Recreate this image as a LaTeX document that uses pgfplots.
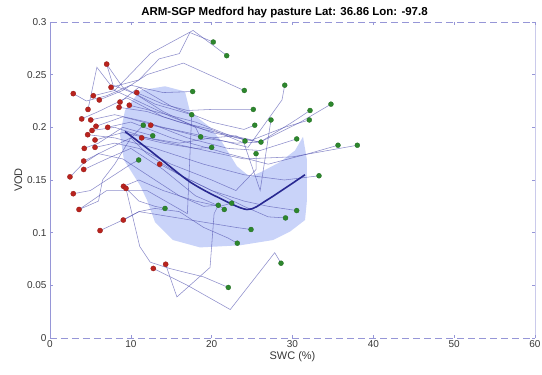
\documentclass[border=0pt]{standalone}
\usepackage{pgfplots}
\pgfplotsset{compat=1.18}
\usepackage{fontspec}
\setmainfont{Liberation Sans}
\definecolor{trk}{RGB}{80,80,175}
\definecolor{shadec}{RGB}{180,194,246}
\definecolor{meanc}{RGB}{40,40,145}
\definecolor{redm}{RGB}{185,35,30}
\definecolor{greenm}{RGB}{45,135,45}
\definecolor{axc}{RGB}{150,150,215}
\definecolor{tkc}{RGB}{55,55,55}
\tikzset{trkstyle/.style={draw=trk, line width=0.55pt, opacity=0.65}}
\begin{document}
\begin{tikzpicture}
\useasboundingbox (0,0) rectangle (542pt,375pt);
\begin{axis}[
  at={(50pt,37pt)}, anchor=south west,
  width=485pt, height=316pt, scale only axis,
  xmin=0, xmax=60, ymin=0, ymax=0.3,
  xtick={0,10,20,30,40,50,60},
  ytick={0,0.05,0.1,0.15,0.2,0.25,0.3},
  yticklabels={0,0.05,0.1,0.15,0.2,0.25,0.3},
  /pgf/number format/assume math mode=true,
  tick label style={font=\fontsize{10}{12}\selectfont, text=tkc},
  xticklabel style={yshift=1pt},
  tick align=inside, major tick length=3pt,
  tick style={axc, line width=0.4pt},
  axis line style={draw=none},
  xlabel={SWC (\%)}, ylabel={VOD},
  label style={font=\fontsize{11}{13}\selectfont, text=tkc},
  xlabel style={yshift=3pt},
  ylabel style={yshift=-2pt},
  title={ARM-SGP Medford hay pasture Lat: 36.86 Lon: -97.8},
  title style={font=\bfseries\fontsize{11.5}{13}\selectfont, yshift=-5pt, xshift=-8pt},
  clip=false,
]
% shaded envelope
\addplot[fill=shadec, draw=none, fill opacity=0.72] coordinates {
(9.28,0.216) (11.13,0.235) (14.23,0.239) (16.70,0.234) (17.32,0.215) (19.80,0.200)
(21.28,0.186) (23.13,0.163) (24.74,0.153) (26.23,0.158) (28.45,0.167) (30.31,0.178)
(31.30,0.191) (31.79,0.169) (31.79,0.131) (31.55,0.112) (29.69,0.101) (27.59,0.093)
(23.51,0.088) (18.56,0.086) (15.22,0.093) (12.99,0.110) (12.0,0.131) (11.13,0.145)
(9.15,0.169) (8.66,0.193)} -- cycle;
% trajectories
\addplot[trkstyle] coordinates {(7.0,0.260) (7.8,0.240) (10.5,0.232) (14,0.215) (18,0.200) (18.6,0.191)};
\addplot[trkstyle] coordinates {(2.9,0.232) (4.5,0.225) (7,0.230) (10,0.240) (14,0.233) (17.65,0.234)};
\addplot[trkstyle] coordinates {(7.55,0.238) (11,0.245) (13.5,0.265) (16,0.270) (17.3,0.290) (20.2,0.281)};
\addplot[trkstyle] coordinates {(5.4,0.230) (8,0.235) (12.4,0.270) (17.7,0.292) (21.9,0.268)};
\addplot[trkstyle] coordinates {(6.1,0.226) (9,0.235) (12,0.250) (16.5,0.261) (24.0,0.235)};
\addplot[trkstyle] coordinates {(10.7,0.233) (14,0.222) (17,0.216) (20,0.217) (25.15,0.217)};
\addplot[trkstyle] coordinates {(8.66,0.224) (11,0.238) (15,0.220) (20,0.205) (24,0.198) (25.3,0.202)};
\addplot[trkstyle] coordinates {(8.54,0.219) (12,0.215) (16,0.205) (20,0.198) (24,0.185) (26,0.140) (27,0.190) (27.34,0.207)};
\addplot[trkstyle] coordinates {(9.8,0.221) (13,0.215) (18,0.205) (23,0.190) (26,0.186) (30,0.205) (32.17,0.216)};
\addplot[trkstyle] coordinates {(4.7,0.217) (5.8,0.257) (8,0.235) (10,0.228) (15,0.210) (20,0.195) (26,0.186) (31,0.205) (34.76,0.222)};
\addplot[trkstyle] coordinates {(3.9,0.208) (6,0.215) (9.5,0.228) (14,0.210) (19,0.198) (25,0.188) (29,0.200) (32.08,0.207)};
\addplot[trkstyle] coordinates {(5.0,0.207) (8,0.212) (12,0.205) (17,0.190) (22,0.180) (26,0.178) (30.52,0.189)};
\addplot[trkstyle] coordinates {(5.7,0.201) (9,0.210) (14,0.200) (20,0.190) (24.5,0.181) (28.7,0.226) (29.04,0.240)};
\addplot[trkstyle] coordinates {(7.1,0.200) (10,0.205) (15,0.190) (22,0.175) (27,0.165) (32,0.175) (35.63,0.183)};
\addplot[trkstyle] coordinates {(5.2,0.197) (8,0.200) (12,0.190) (18,0.180) (24,0.170) (30,0.172) (38.02,0.183)};
\addplot[trkstyle] coordinates {(4.7,0.193) (8,0.190) (13,0.180) (19,0.165) (24,0.155) (29,0.150) (33.28,0.154)};
\addplot[trkstyle] coordinates {(5.6,0.188) (9,0.195) (12,0.190) (16,0.185) (20,0.190) (23,0.192) (24.12,0.187)};
\addplot[trkstyle] coordinates {(12.5,0.202) (15,0.198) (19,0.190) (23,0.185) (26.1,0.186)};
\addplot[trkstyle] coordinates {(11.3,0.190) (14,0.185) (18,0.180) (20.0,0.181)};
\addplot[trkstyle] coordinates {(4.2,0.180) (6,0.185) (9,0.200) (12.71,0.192)};
\addplot[trkstyle] coordinates {(5.6,0.181) (8,0.185) (11,0.180) (15,0.165) (20,0.150) (23,0.140) (25.5,0.160) (25.49,0.175)};
\addplot[trkstyle] coordinates {(4.2,0.168) (6,0.175) (10,0.190) (12,0.175) (16,0.155) (20,0.140) (24,0.130) (27,0.125) (30.52,0.121)};
\addplot[trkstyle] coordinates {(13.6,0.165) (16,0.155) (20,0.140) (24,0.125) (27,0.115) (29.14,0.114)};
\addplot[trkstyle] coordinates {(4.2,0.160) (7,0.170) (10,0.180) (14,0.160) (18,0.135) (21,0.125) (21.56,0.122)};
\addplot[trkstyle] coordinates {(2.5,0.153) (4,0.165) (6,0.175) (9,0.170) (12,0.155) (16,0.135) (19,0.125) (20.82,0.126)};
\addplot[trkstyle] coordinates {(9.1,0.144) (11,0.150) (14,0.140) (18,0.130) (21,0.125) (22.48,0.128)};
\addplot[trkstyle] coordinates {(9.4,0.142) (11,0.130) (13,0.125) (14.23,0.123)};
\addplot[trkstyle] coordinates {(2.9,0.137) (5,0.140) (7,0.150) (9,0.160) (10,0.165) (10.97,0.169)};
\addplot[trkstyle] coordinates {(3.6,0.122) (6,0.130) (6.5,0.150) (8,0.165) (10,0.190) (11.54,0.202)};
\addplot[trkstyle] coordinates {(9.1,0.112) (11,0.120) (13,0.123) (16,0.120) (19,0.105) (22,0.095) (23.17,0.090)};
\addplot[trkstyle] coordinates {(6.2,0.102) (9,0.112) (11,0.120) (15,0.115) (19,0.110) (23,0.105) (24.87,0.103)};
\addplot[trkstyle] coordinates {(14.3,0.070) (15.7,0.039) (19.8,0.067) (20.3,0.118) (20.82,0.126)};
\addplot[trkstyle] coordinates {(9.4,0.142) (11.1,0.087) (12.4,0.072) (14.8,0.066) (19,0.058) (22.06,0.048)};
\addplot[trkstyle] coordinates {(12.8,0.066) (17,0.050) (22.3,0.027) (27.8,0.081) (28.58,0.071)};
\addplot[trkstyle] coordinates {(3.6,0.122) (7,0.140) (12,0.140) (17,0.118) (17.53,0.212)};
\addplot[trkstyle] coordinates {(7.0,0.260) (9,0.238) (13,0.222) (17.53,0.212)};
% mean curve
\addplot[draw=meanc, line width=1.6pt, smooth] coordinates {
(9.28,0.196) (12.37,0.178) (16.45,0.153) (18.2,0.144) (20.66,0.134) (24.37,0.122) (26.85,0.131) (31.55,0.155)};
% start points
\addplot[only marks, mark=*, mark size=2.6pt, mark options={fill=redm, draw=redm!80!black, line width=0.3pt}] coordinates {
(7.01,0.260) (2.88,0.232) (7.55,0.238) (5.36,0.230) (6.10,0.226) (10.73,0.233) (8.66,0.224)
(8.54,0.219) (9.81,0.221) (4.70,0.217) (3.92,0.208) (5.04,0.207) (5.69,0.201) (7.14,0.200)
(5.20,0.197) (4.66,0.193) (5.57,0.188) (12.46,0.202) (11.34,0.190) (4.24,0.180) (5.57,0.181)
(4.17,0.168) (13.57,0.165) (4.17,0.160) (2.47,0.153) (9.09,0.144) (9.40,0.142) (2.88,0.137)
(3.59,0.122) (9.07,0.112) (6.19,0.102) (14.31,0.070) (12.78,0.066)};
% end points
\addplot[only marks, mark=*, mark size=2.5pt, mark options={fill=greenm, draw=greenm!80!black, line width=0.3pt}] coordinates {
(20.2,0.281) (21.86,0.268) (17.65,0.234) (24.04,0.235) (29.04,0.240) (34.76,0.222) (32.17,0.216)
(25.15,0.217) (32.08,0.207) (27.34,0.207) (25.33,0.202) (17.53,0.212) (12.71,0.192) (11.54,0.202)
(18.64,0.191) (24.12,0.187) (26.10,0.186) (30.52,0.189) (20.0,0.181) (25.49,0.175) (35.63,0.183)
(38.02,0.183) (33.28,0.154) (10.97,0.169) (14.23,0.123) (20.82,0.126) (22.48,0.128) (21.56,0.122)
(30.52,0.121) (29.14,0.114) (24.87,0.103) (23.17,0.090) (28.58,0.071) (22.06,0.048)};
% axes box
\draw[axc, line width=0.5pt] (axis cs:0,0) -- (axis cs:0,0.3);
\draw[axc, line width=0.4pt, opacity=0.5] (axis cs:60,0) -- (axis cs:60,0.3);
\draw[axc, line width=0.6pt, dash pattern=on 7pt off 4pt] (axis cs:0,0) -- (axis cs:60,0);
\draw[axc, line width=0.6pt, dash pattern=on 7pt off 4pt] (axis cs:0,0.3) -- (axis cs:60,0.3);
\end{axis}
\end{tikzpicture}
\end{document}
